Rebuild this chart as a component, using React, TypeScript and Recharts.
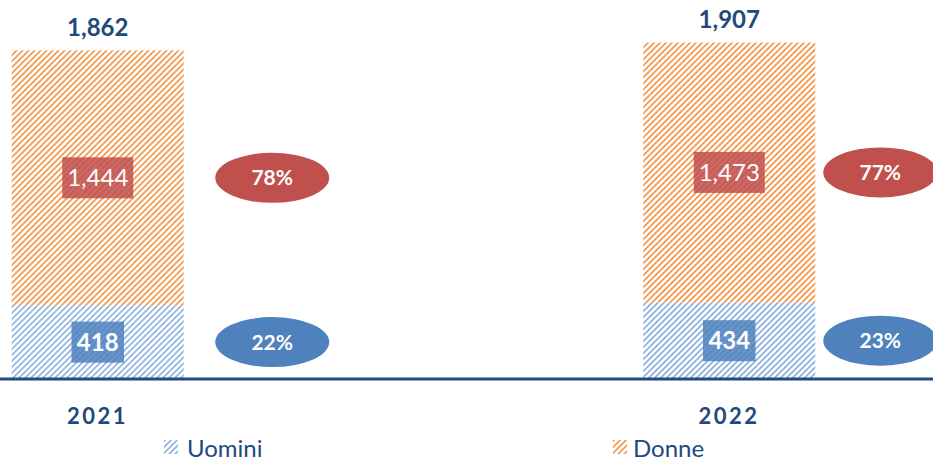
import React from 'react';
import { BarChart, Bar, XAxis, YAxis, LabelList, Legend } from 'recharts';

const years = ['2021', '2022'];
const uomini = [418, 434];
const donne = [1444, 1473];

const data = years.map((year, i) => ({
  idx: i,
  year,
  uomini: uomini[i],
  donne: donne[i],
  total: uomini[i] + donne[i],
}));

const FONT = 'Lato, "Open Sans", sans-serif';
const NAVY = '#1F497D';
const RED = '#C0504D';
const BLUE = '#4F81BD';
const ORANGE_HATCH = '#F79646';
const BLUE_HATCH = '#8DB3E2';
const bubbleDx = [174.5, 151];

const fmt = (v: number) => v.toLocaleString('en-US');
const textW = (s: string) => s.split('').reduce((a, c) => a + (c === ',' ? 6 : 12.5), 0);

const HatchDefs = () => (
  <defs>
    <pattern id="hatchOrange" patternUnits="userSpaceOnUse" width="4.24" height="4.24" patternTransform="rotate(45)">
      <rect x="0" y="0" width="1.7" height="4.24" fill={ORANGE_HATCH} />
    </pattern>
    <pattern id="hatchBlue" patternUnits="userSpaceOnUse" width="4.24" height="4.24" patternTransform="rotate(45)">
      <rect x="0" y="0" width="1.7" height="4.24" fill={BLUE_HATCH} />
    </pattern>
  </defs>
);

const makeSegLabel = (kind: 'u' | 'd') => (props: any) => {
  const { x, y, width, height, value, index } = props;
  const cx = Number(x) + Number(width) / 2;
  const cy = Number(y) + Number(height) / 2;
  const s = fmt(Number(value));
  const bw = textW(s) + 15;
  const bh = 41;
  const row = data[index];
  const pct = Math.round((Number(value) / row.total) * 100);
  const ex = cx + bubbleDx[index];
  const color = kind === 'd' ? RED : BLUE;
  return (
    <g>
      <rect x={cx - bw / 2} y={cy - bh / 2} width={bw} height={bh} fill={color} fillOpacity={0.85} />
      <text x={cx} y={cy} dy="0.36em" textAnchor="middle" fill="#fff" fontFamily={FONT} fontSize={24} fontWeight={kind === 'u' ? 700 : 400}>
        {s}
      </text>
      <ellipse cx={ex} cy={cy} rx={57} ry={25} fill={color} />
      <text x={ex} y={cy} dy="0.36em" textAnchor="middle" fill="#fff" fontFamily={FONT} fontSize={21} fontWeight={700}>
        {pct}%
      </text>
      {kind === 'd' && (
        <text x={cx} y={Number(y) - 23} dy="0.36em" textAnchor="middle" fill={NAVY} fontFamily={FONT} fontSize={24} fontWeight={700}>
          {fmt(row.total)}
        </text>
      )}
    </g>
  );
};

const YearTick = (props: any) => {
  const { x, payload } = props;
  return (
    <text x={x} y={379 + 37} dy="0.36em" textAnchor="middle" fill={NAVY} fontFamily={FONT} fontSize={22} fontWeight={700} letterSpacing={2.5}>
      {years[payload.value]}
    </text>
  );
};

const LegendIcon = ({ id }: { id: string }) => (
  <svg width={14} height={14} style={{ display: 'block' }}>
    <defs>
      <pattern id={id + 'L'} patternUnits="userSpaceOnUse" width="4.24" height="4.24" patternTransform="rotate(45)">
        <rect x="0" y="0" width="1.7" height="4.24" fill={id === 'o' ? ORANGE_HATCH : BLUE_HATCH} />
      </pattern>
    </defs>
    <rect x={0} y={0} width={14} height={14} fill={`url(#${id}L)`} />
  </svg>
);

const LegendContent = () => (
  <div style={{ position: 'relative', width: 933, height: 33, fontFamily: FONT, fontSize: 24, color: NAVY }}>
    <div style={{ position: 'absolute', left: 164, top: 3, display: 'flex', alignItems: 'center', gap: 9, height: 30 }}>
      <LegendIcon id="b" />
      <span>Uomini</span>
    </div>
    <div style={{ position: 'absolute', left: 613, top: 3, display: 'flex', alignItems: 'center', gap: 6, height: 30 }}>
      <LegendIcon id="o" />
      <span>Donne</span>
    </div>
  </div>
);

export default function App() {
  return (
    <div style={{ position: 'absolute', left: 0, top: 0, width: 933, height: 466, background: '#fff' }}>
      <BarChart width={933} height={466} data={data} margin={{ top: 26, right: 0, bottom: 4, left: 0 }}>
        <HatchDefs />
        <XAxis
          dataKey="idx"
          type="number"
          domain={[-0.1544, 1.323]}
          ticks={[0, 1]}
          allowDataOverflow
          height={50}
          tickLine={false}
          axisLine={{ stroke: '#264A7D', strokeWidth: 3 }}
          tick={<YearTick />}
          interval={0}
        />
        <YAxis hide domain={[0, 2000]} />
        <Legend verticalAlign="bottom" content={<LegendContent />} />
        <Bar dataKey="uomini" stackId="a" barSize={172} fill="url(#hatchBlue)" isAnimationActive={false}>
          <LabelList dataKey="uomini" content={makeSegLabel('u')} />
        </Bar>
        <Bar dataKey="donne" stackId="a" barSize={172} fill="url(#hatchOrange)" isAnimationActive={false}>
          <LabelList dataKey="donne" content={makeSegLabel('d')} />
        </Bar>
      </BarChart>
    </div>
  );
}
